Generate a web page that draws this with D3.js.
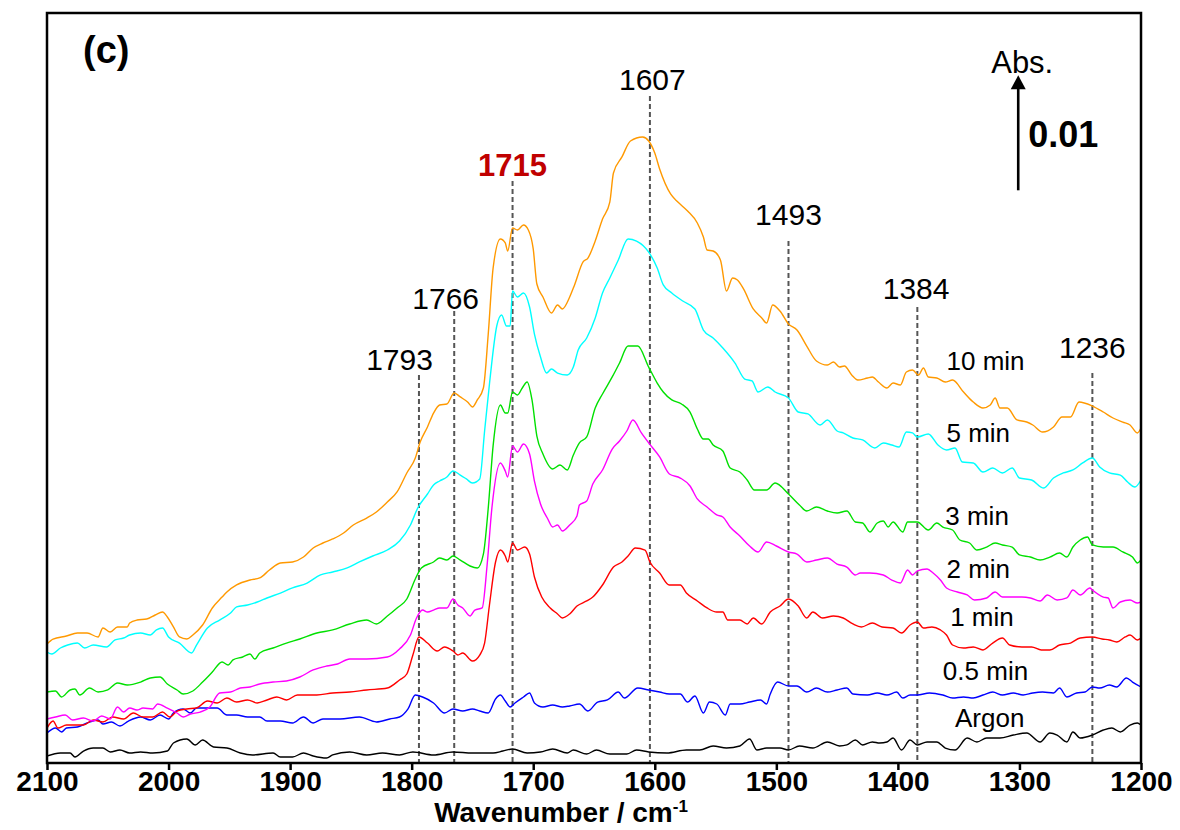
<!DOCTYPE html>
<html lang="en">
<head>
<meta charset="UTF-8">
<title>IR spectra (c)</title>
<script src="https://d3js.org/d3.v7.min.js"></script>
<style>
  body { margin: 0; background: #fff; }
  svg { display: block; font-family: "Liberation Sans", Arial, sans-serif; }
  .spec { fill: none; stroke-width: 1.4px; stroke-linejoin: round; }
  .peak { stroke: #555; stroke-width: 2px; stroke-dasharray: 5,3; }
  .peak-label { font-size: 30px; text-anchor: middle; }
  .series-label { font-size: 26px; }
  .axis text { font-size: 28px; font-weight: bold; fill: #000; }
  .axis line, .axis path { stroke: #000; stroke-width: 2.5px; }
</style>
</head>
<body>
<script>
// wavenumber axis ticks
var xTicks = [2100, 2000, 1900, 1800, 1700, 1600, 1500, 1400, 1300, 1200];

// series (bottom to top), values are [wavenumber, absorbance in mAbs, offset stacked]
var seriesNames = ["Argon", "0.5 min", "1 min", "2 min", "3 min", "5 min", "10 min"];

var argon = [[2100,0.61],[2089,0.87],[2081,0.87],[2077,0.52],[2070,1.04],[2062,1.30],[2054,1.30],[2048,0.96],[2040,1.13],[2032,0.87],[2023,0.96],[2013,0.87],[2001,1.04],[1996,1.74],[1985,2.09],[1978,1.57],[1972,2.0],[1963,1.39],[1952,1.30],[1941,0.87],[1931,0.70],[1914,0.87],[1908,0.52],[1898,0.52],[1889,0.87],[1881,0.61],[1870,0.43],[1865,0.70],[1851,0.96],[1837,0.70],[1824,0.87],[1810,0.70],[1799,0.96],[1782,0.70],[1766,0.96],[1750,0.87],[1733,0.87],[1725,1.04],[1717,1.22],[1705,0.87],[1694,0.96],[1684,1.22],[1672,0.87],[1667,1.13],[1656,0.78],[1648,1.13],[1637,0.78],[1623,0.78],[1615,1.13],[1605,0.96],[1590,0.87],[1574,1.13],[1563,1.13],[1552,1.48],[1541,1.30],[1530,1.48],[1522,2.09],[1516,1.13],[1508,1.30],[1497,1.30],[1490,1.13],[1481,1.48],[1470,1.30],[1458,1.83],[1448,1.48],[1442,1.57],[1435,2.0],[1429,1.57],[1421,1.83],[1415,1.74],[1409,1.83],[1404,2.17],[1397,1.13],[1390,2.0],[1384,1.57],[1376,1.83],[1368,1.83],[1361,1.30],[1353,1.13],[1343,2.17],[1335,1.83],[1327,2.17],[1316,2.17],[1305,2.43],[1294,2.61],[1283,1.83],[1275,2.61],[1269,2.43],[1261,1.83],[1256,2.70],[1250,2.17],[1240,2.43],[1231,2.87],[1224,3.04],[1217,2.70],[1209,3.30],[1203,3.48],[1200,3.30]];

var min05 = [[2100,2.61],[2093,3.04],[2088,2.70],[2084,3.04],[2075,3.13],[2067,3.48],[2058,3.74],[2054,3.39],[2047,3.57],[2040,3.22],[2033,3.65],[2023,4.0],[2015,3.74],[2007,4.17],[2000,3.83],[1996,4.35],[1988,4.70],[1982,4.35],[1977,4.78],[1968,4.78],[1960,4.78],[1952,4.17],[1944,4.17],[1935,4.0],[1925,4.0],[1919,3.65],[1908,3.65],[1898,3.48],[1889,4.0],[1881,3.48],[1873,3.83],[1859,3.83],[1843,4.0],[1829,3.57],[1818,3.83],[1810,4.0],[1803,4.70],[1797,5.91],[1791,5.74],[1782,5.22],[1773,4.35],[1766,4.70],[1758,4.52],[1750,4.70],[1744,4.52],[1737,4.35],[1731,5.57],[1727,5.91],[1723,5.39],[1719,4.87],[1715,5.22],[1708,5.74],[1703,6.09],[1699,5.22],[1692,4.87],[1684,5.04],[1676,4.87],[1670,4.96],[1662,5.13],[1655,4.52],[1647,5.30],[1639,5.48],[1630,6.17],[1625,5.65],[1614,6.52],[1605,6.35],[1596,6.17],[1588,6.0],[1579,6.0],[1573,5.30],[1567,5.83],[1560,4.35],[1555,5.30],[1549,5.13],[1542,4.17],[1538,5.13],[1530,5.13],[1522,5.30],[1513,5.48],[1508,5.13],[1505,6.0],[1499,7.04],[1490,6.70],[1483,6.70],[1475,6.17],[1467,6.52],[1458,6.17],[1450,6.35],[1442,6.52],[1437,6.0],[1425,5.91],[1417,6.09],[1409,5.91],[1401,6.17],[1396,5.65],[1390,5.91],[1384,5.91],[1374,6.09],[1363,5.91],[1355,5.65],[1346,5.74],[1338,5.65],[1330,5.91],[1322,6.17],[1314,5.91],[1305,6.09],[1297,5.91],[1289,6.09],[1281,6.17],[1272,6.09],[1267,6.52],[1261,5.74],[1253,6.09],[1246,6.17],[1240,6.61],[1234,6.52],[1226,6.78],[1220,6.61],[1212,7.39],[1207,7.04],[1200,6.61]];

var min1 = [[2100,3.04],[2095,3.65],[2091,3.04],[2084,3.30],[2079,3.30],[2070,3.30],[2062,3.74],[2054,3.57],[2046,4.0],[2037,3.83],[2029,4.35],[2021,4.0],[2013,4.0],[2005,4.43],[1999,4.0],[1993,4.52],[1985,4.70],[1977,4.78],[1968,5.39],[1960,5.22],[1952,5.65],[1944,5.30],[1935,5.48],[1927,5.22],[1919,5.48],[1911,5.74],[1903,5.48],[1894,5.91],[1886,5.91],[1878,5.91],[1865,6.09],[1851,6.17],[1837,6.35],[1820,6.52],[1810,7.22],[1804,7.74],[1799,9.39],[1794,10.96],[1787,10.43],[1779,9.74],[1773,10.09],[1766,9.74],[1762,9.39],[1758,9.57],[1750,8.87],[1744,9.39],[1740,10.43],[1736,13.74],[1731,17.48],[1727,18.52],[1723,18.0],[1721,17.48],[1717,19.13],[1713,18.52],[1707,18.78],[1703,18.17],[1699,16.17],[1693,14.43],[1686,13.48],[1680,12.96],[1676,12.61],[1670,12.96],[1664,13.65],[1656,14.09],[1651,14.43],[1643,15.48],[1634,17.04],[1627,17.48],[1622,18.0],[1616,18.70],[1608,18.52],[1604,17.48],[1596,16.52],[1588,15.48],[1579,15.48],[1574,14.78],[1565,14.09],[1557,13.48],[1549,13.13],[1544,13.13],[1540,12.43],[1530,12.43],[1524,12.09],[1519,12.61],[1512,12.09],[1505,13.13],[1497,13.65],[1490,14.26],[1482,13.65],[1475,12.61],[1470,13.13],[1462,12.61],[1453,12.78],[1445,12.61],[1437,12.09],[1430,11.83],[1421,12.17],[1413,11.83],[1404,11.74],[1397,11.30],[1390,12.0],[1384,12.26],[1379,11.74],[1372,11.83],[1365,11.57],[1360,11.13],[1355,10.26],[1346,10.0],[1338,10.09],[1330,9.83],[1322,10.43],[1314,10.87],[1308,10.26],[1298,10.09],[1290,10.09],[1282,9.83],[1275,9.83],[1267,10.26],[1258,10.43],[1250,10.87],[1240,10.96],[1232,10.78],[1226,10.70],[1220,10.52],[1213,10.96],[1209,11.13],[1203,10.70],[1200,10.87]];

var min2 = [[2100,3.83],[2093,4.0],[2085,4.17],[2079,3.74],[2070,3.91],[2062,3.65],[2055,4.09],[2048,3.83],[2042,4.87],[2037,4.43],[2032,4.78],[2026,4.61],[2021,4.78],[2013,4.70],[2009,5.13],[2001,4.78],[1993,4.35],[1988,4.0],[1982,4.26],[1974,4.43],[1966,4.87],[1958,6.09],[1949,6.17],[1941,6.52],[1933,6.61],[1925,6.87],[1914,7.04],[1903,7.13],[1892,7.48],[1881,8.09],[1870,8.43],[1861,8.61],[1851,9.04],[1837,9.04],[1820,9.22],[1810,9.91],[1801,11.13],[1796,12.61],[1791,13.30],[1787,13.13],[1782,13.30],[1777,13.48],[1771,13.48],[1766,14.26],[1762,13.74],[1758,13.48],[1752,12.78],[1748,13.30],[1742,13.48],[1738,17.13],[1734,22.17],[1727,26.09],[1723,25.39],[1721,24.87],[1717,27.57],[1713,27.04],[1708,27.74],[1703,26.87],[1699,24.52],[1694,22.52],[1688,21.22],[1684,20.52],[1680,20.70],[1676,20.17],[1670,20.70],[1664,21.48],[1662,22.43],[1656,22.78],[1651,24.26],[1643,25.48],[1635,27.30],[1629,28.0],[1623,28.87],[1618,29.83],[1611,28.70],[1605,27.83],[1596,26.61],[1588,25.13],[1579,24.78],[1571,24.09],[1565,22.96],[1557,22.26],[1549,21.57],[1544,21.39],[1538,20.52],[1530,19.74],[1522,18.87],[1515,18.35],[1508,19.22],[1500,18.87],[1490,18.35],[1483,18.17],[1475,17.48],[1467,17.65],[1458,17.83],[1450,17.30],[1442,17.04],[1435,16.35],[1431,16.52],[1423,16.52],[1412,16.35],[1405,15.91],[1398,15.65],[1392,16.78],[1388,16.35],[1384,16.70],[1376,16.87],[1371,16.52],[1365,15.91],[1360,15.22],[1351,14.87],[1343,14.61],[1337,14.17],[1327,14.35],[1320,14.87],[1314,14.43],[1305,14.43],[1298,14.43],[1291,14.35],[1283,14.09],[1277,14.61],[1269,14.17],[1261,14.35],[1256,15.04],[1250,14.61],[1242,15.22],[1240,15.04],[1231,14.43],[1227,14.35],[1223,13.48],[1217,14.0],[1209,14.17],[1203,13.91],[1200,14.0]];

var min3 = [[2100,6.17],[2093,6.26],[2088,5.74],[2081,6.35],[2077,6.43],[2073,5.91],[2065,6.52],[2058,6.17],[2050,6.35],[2042,6.96],[2034,6.78],[2023,7.04],[2015,7.39],[2007,7.48],[2001,6.87],[1993,6.35],[1988,6.0],[1980,6.26],[1972,7.04],[1964,7.91],[1956,8.78],[1951,8.52],[1947,8.96],[1939,9.22],[1933,9.48],[1929,9.04],[1925,9.57],[1914,10.0],[1903,10.43],[1892,10.78],[1878,11.30],[1865,11.57],[1851,12.09],[1837,12.43],[1829,12.09],[1820,12.78],[1812,13.48],[1804,14.26],[1797,16.0],[1792,16.96],[1782,17.48],[1777,17.83],[1771,17.65],[1766,18.0],[1760,17.65],[1752,17.13],[1746,16.96],[1741,18.17],[1737,22.17],[1733,27.57],[1727,31.13],[1723,30.43],[1721,30.43],[1717,32.26],[1713,32.0],[1709,32.61],[1705,33.13],[1701,31.57],[1697,28.43],[1692,26.87],[1684,25.57],[1678,25.91],[1672,25.48],[1667,26.78],[1662,27.83],[1656,28.35],[1649,30.87],[1643,32.09],[1635,33.57],[1629,34.78],[1622,36.26],[1614,36.26],[1605,34.43],[1598,33.04],[1593,32.26],[1586,31.57],[1578,31.22],[1571,30.52],[1565,29.04],[1560,28.17],[1556,28.17],[1552,27.65],[1544,27.13],[1538,25.65],[1530,25.30],[1524,24.61],[1518,23.74],[1508,23.74],[1501,24.35],[1490,23.39],[1481,22.43],[1475,21.91],[1467,22.26],[1458,21.91],[1450,21.74],[1442,21.91],[1435,20.96],[1429,20.87],[1423,20.09],[1417,20.87],[1412,21.04],[1408,20.52],[1404,20.96],[1396,20.09],[1392,20.96],[1384,20.96],[1375,20.26],[1368,20.87],[1363,20.52],[1355,20.26],[1349,19.39],[1341,19.13],[1335,18.52],[1327,18.78],[1320,19.13],[1314,18.96],[1306,18.78],[1300,18.09],[1291,17.91],[1283,17.65],[1275,17.91],[1267,18.26],[1261,17.91],[1256,18.78],[1250,19.39],[1244,19.65],[1240,18.96],[1231,18.78],[1223,18.78],[1215,18.35],[1207,17.91],[1203,17.39],[1200,17.65]];

var min5 = [[2100,9.65],[2096,9.48],[2089,10.0],[2083,10.26],[2075,10.43],[2069,10.0],[2062,10.26],[2051,10.09],[2044,10.70],[2037,10.87],[2032,11.13],[2023,11.30],[2015,11.13],[2010,11.57],[2005,11.74],[2000,10.96],[1991,10.43],[1981,9.57],[1977,10.26],[1968,11.74],[1958,12.43],[1949,13.04],[1944,13.57],[1935,13.74],[1927,14.0],[1919,14.35],[1908,14.78],[1898,15.22],[1886,15.65],[1875,16.35],[1865,16.61],[1853,16.96],[1843,17.48],[1832,18.0],[1820,18.52],[1810,19.30],[1801,20.70],[1795,22.17],[1787,23.39],[1782,24.17],[1777,24.52],[1771,24.87],[1766,25.39],[1760,25.04],[1755,24.70],[1750,24.35],[1744,24.70],[1740,28.87],[1736,32.96],[1730,38.0],[1726,38.96],[1722,38.0],[1719,38.0],[1717,41.04],[1713,40.52],[1708,40.87],[1703,39.65],[1699,37.30],[1694,35.30],[1689,33.91],[1685,34.26],[1680,33.91],[1672,33.74],[1667,34.43],[1663,35.91],[1656,36.96],[1649,38.70],[1643,40.87],[1637,42.17],[1630,43.74],[1622,45.57],[1615,45.39],[1605,44.43],[1598,43.04],[1593,41.57],[1586,40.87],[1577,40.17],[1567,39.48],[1560,37.65],[1552,36.96],[1544,36.09],[1534,34.78],[1526,33.39],[1520,33.22],[1515,32.26],[1507,32.70],[1501,32.26],[1490,31.74],[1482,30.52],[1474,30.35],[1464,29.39],[1458,29.83],[1450,28.87],[1445,28.70],[1437,28.26],[1429,28.09],[1419,27.39],[1412,27.83],[1405,27.65],[1399,27.48],[1393,28.78],[1388,28.70],[1384,28.35],[1375,28.61],[1367,27.65],[1360,27.22],[1353,27.39],[1347,26.17],[1338,26.09],[1330,25.30],[1322,25.65],[1314,25.22],[1306,25.65],[1300,24.78],[1290,24.61],[1280,23.91],[1272,24.78],[1264,25.22],[1256,25.48],[1248,26.09],[1240,26.52],[1234,25.74],[1226,25.22],[1217,25.04],[1211,24.43],[1205,24.0],[1200,24.61]];

var min10 = [[2100,10.35],[2095,10.78],[2084,11.04],[2075,11.30],[2067,11.30],[2058,10.96],[2054,11.74],[2048,11.39],[2042,11.83],[2034,11.83],[2032,12.17],[2026,12.43],[2018,12.52],[2011,12.87],[2005,13.13],[2001,12.70],[1996,11.83],[1991,10.96],[1985,10.78],[1980,11.13],[1972,12.0],[1964,13.48],[1956,14.43],[1952,14.87],[1944,15.48],[1933,15.91],[1925,16.09],[1917,16.78],[1908,17.39],[1898,17.48],[1889,17.91],[1881,18.70],[1873,19.13],[1865,19.48],[1856,20.0],[1848,20.70],[1837,21.30],[1829,21.83],[1820,22.70],[1812,23.57],[1804,25.22],[1797,26.52],[1793,27.91],[1787,29.22],[1782,30.43],[1777,31.13],[1771,31.22],[1765,32.17],[1760,31.83],[1754,31.39],[1750,30.96],[1746,31.57],[1741,32.61],[1737,37.30],[1733,43.04],[1727,45.57],[1723,45.22],[1721,44.52],[1717,46.52],[1713,46.35],[1708,46.78],[1704,46.35],[1700,44.70],[1697,41.65],[1692,40.52],[1685,39.13],[1680,39.83],[1676,39.48],[1670,40.52],[1666,41.57],[1659,43.57],[1655,43.91],[1649,45.39],[1643,47.30],[1637,48.78],[1634,51.30],[1627,52.70],[1620,54.09],[1610,54.43],[1605,54.09],[1600,53.04],[1596,51.65],[1587,49.48],[1581,48.78],[1573,48.0],[1565,46.96],[1560,45.74],[1557,44.61],[1552,44.52],[1546,43.74],[1541,41.04],[1536,42.17],[1532,42.0],[1527,41.22],[1519,39.48],[1512,38.70],[1508,38.26],[1503,39.83],[1497,39.30],[1490,38.17],[1483,37.65],[1475,36.26],[1467,34.96],[1458,34.61],[1453,34.87],[1448,34.43],[1444,34.52],[1438,33.74],[1433,33.30],[1425,33.48],[1421,33.57],[1416,33.13],[1409,32.61],[1404,33.04],[1398,32.87],[1393,34.0],[1388,34.17],[1383,33.74],[1379,34.35],[1375,33.57],[1368,33.48],[1361,33.13],[1355,33.30],[1346,32.26],[1338,31.39],[1330,30.87],[1324,31.13],[1320,31.74],[1316,30.87],[1310,30.87],[1302,29.83],[1294,29.65],[1289,29.39],[1281,28.78],[1272,29.22],[1265,30.09],[1258,30.09],[1251,31.39],[1240,31.04],[1231,30.52],[1223,30.0],[1215,29.65],[1209,29.39],[1203,28.70],[1200,29.13]];

var seriesValues = [argon, min05, min1, min2, min3, min5, min10];

// series label anchors [wavenumber, mAbs]
var seriesLabelX = [1353, 1363, 1357, 1360, 1361, 1360, 1360];
var seriesLabelY = [3.13, 7.22, 11.91, 16.09, 20.70, 27.91, 34.17];

// marked bands
var peakLabels = ["1793", "1766", "1715", "1607", "1493", "1384", "1236"];
var peakLinePos = [1794, 1765, 1717, 1604, 1490, 1384, 1240];
var peakLabelPos = [1810, 1772, 1717, 1602, 1490, 1385, 1240];
var peakLineTop = [33.74, 39.30, 50.61, 58.0, 45.39, 39.65, 33.91];
var peakLabelY = [34.17, 39.48, 51.04, 58.48, 46.78, 40.35, 35.22];

// scale bar: 10 mAbs = 0.01 Abs
var scaleBarPos = 1301, scaleBarBase = 49.8, scaleBarLength = 10;

var colors = ["#000000", "#0000ff", "#ff0000", "#ff00ff", "#00e000", "#00ffff", "#ff9900"];

var width = 1180, height = 830;
var margin = {top: 13, right: 39, bottom: 67, left: 47};
var innerW = width - margin.left - margin.right,
    innerH = height - margin.top - margin.bottom;

var svg = d3.select("body").append("svg")
    .attr("width", width)
    .attr("height", height);

var g = svg.append("g")
    .attr("transform", "translate(" + margin.left + "," + margin.top + ")");

var x = d3.scaleLinear().domain([2100, 1200]).range([0, innerW]);
var y = d3.scaleLinear().domain([0, innerH / 11.5]).range([innerH, 0]);

g.append("clipPath").attr("id", "clip")
    .append("rect").attr("width", innerW).attr("height", innerH);

// dashed band markers
peakLabels.forEach(function(lab, i) {
    g.append("line")
        .attr("class", "peak")
        .attr("x1", x(peakLinePos[i])).attr("x2", x(peakLinePos[i]))
        .attr("y1", y(peakLineTop[i])).attr("y2", innerH);
    var t = g.append("text")
        .attr("class", "peak-label")
        .attr("x", x(peakLabelPos[i]))
        .attr("y", y(peakLabelY[i]))
        .text(lab);
    if (lab === "1715") {
        t.style("font-weight", "bold").style("fill", "#c00000").style("font-size", "31px");
    }
});

var line = d3.line()
    .curve(d3.curveMonotoneX)
    .x(d => x(d[0]))
    .y(d => y(d[1]));

g.append("g").attr("clip-path", "url(#clip)")
    .selectAll("path")
    .data(seriesValues)
    .enter().append("path")
    .attr("class", "spec")
    .attr("stroke", (d, i) => colors[i])
    .attr("d", line);

// series labels
g.selectAll(".series-label")
    .data(seriesNames)
    .enter().append("text")
    .attr("class", "series-label")
    .attr("x", (d, i) => x(seriesLabelX[i]))
    .attr("y", (d, i) => y(seriesLabelY[i]))
    .text(d => d);

// frame
g.append("rect")
    .attr("width", innerW).attr("height", innerH)
    .attr("fill", "none").attr("stroke", "#000").attr("stroke-width", 2.5);

// bottom axis
var xAxis = g.append("g")
    .attr("class", "axis")
    .attr("transform", "translate(0," + innerH + ")")
    .call(d3.axisBottom(x).tickValues(xTicks).tickFormat(d3.format("d")).tickSize(7).tickPadding(1));
xAxis.select(".domain").remove();

// axis title
var title = svg.append("text")
    .attr("x", 561).attr("y", 822)
    .attr("text-anchor", "middle")
    .style("font-size", "28px").style("font-weight", "bold")
    .text("Wavenumber / cm");
title.append("tspan").attr("dy", -10).style("font-size", "17px").text("-1");

// panel letter
svg.append("text")
    .attr("x", 83).attr("y", 63)
    .style("font-size", "38px").style("font-weight", "bold")
    .text("(c)");

// scale bar arrow
var sx = x(scaleBarPos),
    sy0 = y(scaleBarBase),
    sy1 = y(scaleBarBase + scaleBarLength);
g.append("line")
    .attr("x1", sx).attr("x2", sx)
    .attr("y1", sy0).attr("y2", sy1 + 12)
    .attr("stroke", "#000").attr("stroke-width", 2.6);
g.append("path")
    .attr("d", "M" + (sx - 7.5) + "," + (sy1 + 14) + "L" + sx + "," + sy1 + "L" + (sx + 7.5) + "," + (sy1 + 14) + "Z")
    .attr("fill", "#000");
g.append("text")
    .attr("x", sx + 4).attr("y", sy1 - 2)
    .attr("text-anchor", "middle")
    .style("font-size", "31px")
    .text("Abs.");
g.append("text")
    .attr("x", sx + 10).attr("y", (sy0 + sy1) / 2 + 14)
    .style("font-size", "36px").style("font-weight", "bold")
    .text("0.01");
</script>
</body>
</html>
